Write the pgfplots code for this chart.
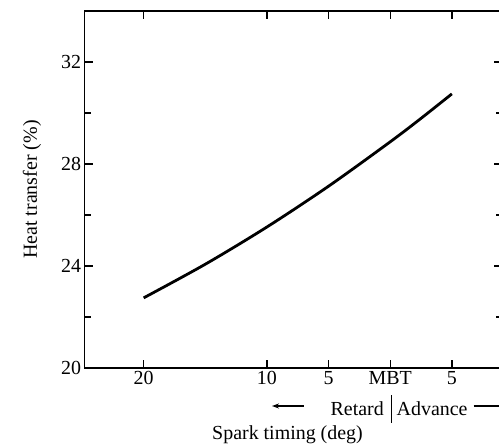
\documentclass[border=0pt]{standalone}
\usepackage{pgfplots}
\pgfplotsset{compat=1.18}
\usepackage{fontspec}
\setmainfont{Liberation Serif}
\usetikzlibrary{arrows.meta}
\begin{document}
\begin{tikzpicture}
\begin{axis}[
 at={(0bp,0bp)}, anchor=south west,
 scale only axis, width=417.9bp, height=357bp,
 xmin=-24.8, xmax=9.1, ymin=20, ymax=34,
 xtick={-20,-10,-5,0,5}, xticklabels={20,10,5,MBT,5},
 ytick={20,24,28,32}, minor ytick={22,26,30},
 tick align=inside,
 major tick length=8bp, minor tick length=6bp,
 every tick/.style={black, line width=1.3bp},
 axis line style={line width=1.7bp},
 tick label style={font=\fontsize{20}{22}\selectfont},
 /pgf/number format/assume math mode=true,
 clip=false,
]
\addplot[black, line width=2.8bp, smooth] coordinates {
 (-20,22.75) (-15,24.07) (-10,25.53) (-5,27.13) (0,28.87) (2.5,29.79) (5,30.75)
};
\end{axis}
\node[rotate=90, font=\fontsize{20}{22}\selectfont] at (-52.5bp,178.5bp) {Heat transfer (\%)};
\node[anchor=base, font=\fontsize{20}{22}\selectfont, inner sep=0pt] at (203bp,-71bp) {Spark timing (deg)};
\node[anchor=base east, font=\fontsize{20}{22}\selectfont, inner sep=0pt] at (299.5bp,-47bp) {Retard};
\node[anchor=base west, font=\fontsize{20}{22}\selectfont, inner sep=0pt] at (312bp,-47bp) {Advance};
\draw[line width=1.3bp] (307bp,-27bp) -- (307bp,-55bp);
\draw[line width=1.3bp, -{Stealth[length=7bp,width=5bp]}] (219bp,-38bp) -- (187.5bp,-38bp);
\draw[line width=1.3bp, -{Stealth[length=7bp,width=5bp]}] (389bp,-38bp) -- (422bp,-38bp);
\pgfresetboundingbox
\useasboundingbox (-84.5bp,-76bp) rectangle (414.5bp,368bp);
\end{tikzpicture}
\end{document}
